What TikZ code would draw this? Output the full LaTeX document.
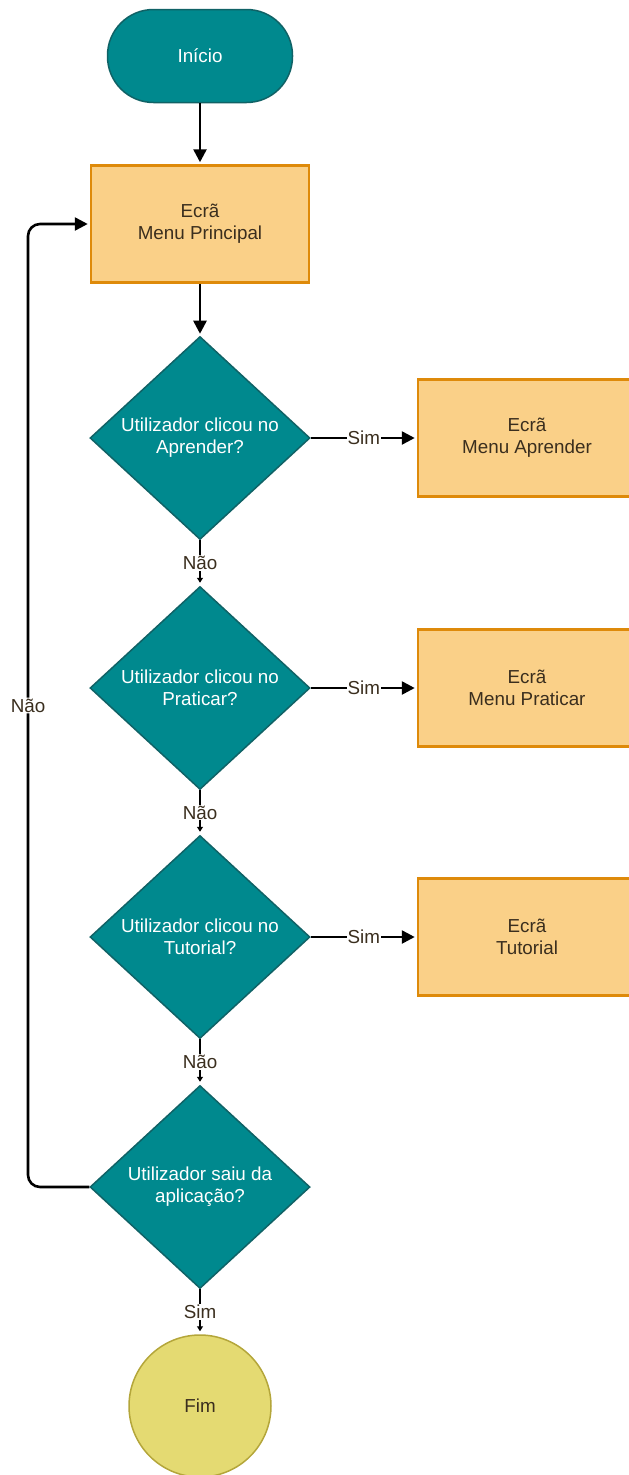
\documentclass[tikz,border=0pt]{standalone}
\usepackage{fontspec}
\setmainfont{Liberation Sans}
\usepackage{xcolor}
\usetikzlibrary{arrows.meta, calc, positioning, shapes.geometric}

\definecolor{tealfill}{RGB}{0,137,142}
\definecolor{tealline}{RGB}{16,98,102}
\definecolor{boxfill}{RGB}{250,208,136}
\definecolor{boxline}{RGB}{222,138,10}
\definecolor{fimfill}{RGB}{228,218,114}
\definecolor{fimline}{RGB}{180,166,58}
\definecolor{inktext}{RGB}{58,46,30}

\begin{document}
\begin{tikzpicture}[x=1pt, y=-1pt,
  every node/.style={font=\fontsize{18.8}{22}\selectfont, align=center},
  inicio/.style={draw=tealline, fill=tealfill, line width=1.5pt, rounded corners=46pt,
    minimum width=185pt, minimum height=93pt, text=white},
  ecra/.style={draw=boxline, fill=boxfill, line width=2.5pt,
    minimum width=218pt, minimum height=117pt, text=inktext},
  pergunta/.style={diamond, aspect=1.08, draw=tealline, fill=tealfill, line width=1.5pt,
    inner sep=0pt, minimum width=220pt, minimum height=203pt, text=white},
  fim/.style={circle, draw=fimline, fill=fimfill, line width=1.5pt,
    minimum size=142pt, text=inktext},
  rotulo/.style={fill=white, text=inktext, inner sep=1pt},
  seta/.style={-{Triangle[width=13pt,length=13pt]}, line width=2.6pt, shorten >=2pt},
  setinha/.style={-{Triangle[width=6pt,length=5pt]}, line width=2.6pt, shorten >=3pt}]
\useasboundingbox (0,0) rectangle (629,1475);

\node[inicio] (inicio) at (200,56) {Início};
\node[ecra] (menu) at (200,224) {Ecrã\\Menu Principal};

% Aprender
\node[pergunta] (aprender) at (200,438) {Utilizador clicou no\\Aprender?};
\node[ecra] (menuaprender) at (527,438) {Ecrã\\Menu Aprender};

% Praticar
\node[pergunta] (praticar) at (200,688) {Utilizador clicou no\\Praticar?};
\node[ecra] (menupraticar) at (527,688) {Ecrã\\Menu Praticar};

% Tutorial
\node[pergunta] (tutorial) at (200,937) {Utilizador clicou no\\Tutorial?};
\node[ecra] (ecratutorial) at (527,937) {Ecrã\\Tutorial};

% Sair
\node[pergunta] (sair) at (200,1187) {Utilizador saiu da\\aplicação?};
\node[fim] (fim) at (200,1406) {Fim};

\draw[seta] (inicio) -- (menu);
\draw[seta] (menu) -- (aprender);

\draw[seta] (aprender) -- node[rotulo] {Sim} (menuaprender);
\draw[seta] (praticar) -- node[rotulo] {Sim} (menupraticar);
\draw[seta] (tutorial) -- node[rotulo] {Sim} (ecratutorial);

\draw[setinha] (aprender) -- node[rotulo] {Não} (praticar);
\draw[setinha] (praticar) -- node[rotulo] {Não} (tutorial);
\draw[setinha] (tutorial) -- node[rotulo] {Não} (sair);
\draw[setinha] (sair) -- node[rotulo] {Sim} (fim);

% volta ao menu
\coordinate (cantobaixo) at (28,1187);
\coordinate (cantocima) at (28,224);
\draw[seta, rounded corners=12pt] (sair.west) -- (cantobaixo) -- node[rotulo] {Não} (cantocima) -- (menu.west);
\end{tikzpicture}
\end{document}
